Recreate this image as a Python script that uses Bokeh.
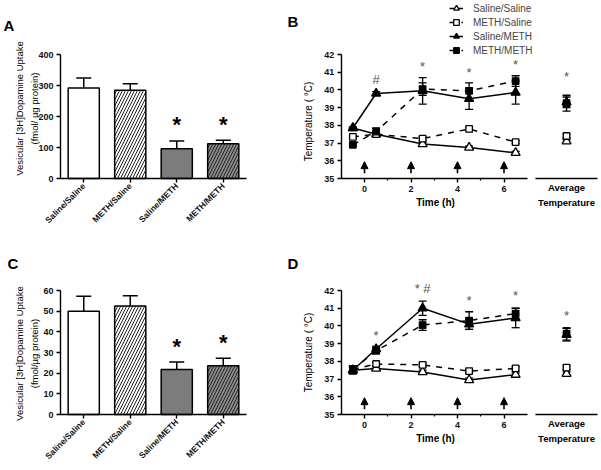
import math
from bokeh.plotting import figure
from bokeh.layouts import row, column
from bokeh.models import (Range1d, FixedTicker, ColumnDataSource, Whisker, LinearAxis,
                          TeeHead, Arrow, NormalHead, Label, Legend, LegendItem)
from bokeh.core.properties import value
from bokeh.embed import file_html
from bokeh.resources import INLINE

FONT = "Liberation Sans"

# ---------------- data ----------------
groups = ["Saline/Saline", "METH/Saline", "Saline/METH", "METH/METH"]

uptake_A = [292, 285, 96, 112]
uptake_A_err = [32, 21, 25, 11]
uptake_C = [50.0, 52.5, 21.8, 23.6]
uptake_C_err = [7.2, 5.0, 3.6, 3.6]
uptake_sig = ["", "", "*", "*"]

time_h = [-0.5, 0.5, 2.5, 4.5, 6.5]
dose_times = [0, 2, 4, 6]

temp_B = {
    "Saline/Saline": [37.85, 37.5, 36.95, 36.75, 36.45],
    "METH/Saline":   [37.35, 37.5, 37.25, 37.8, 37.05],
    "Saline/METH":   [37.85, 39.8, 39.95, 39.5, 39.85],
    "METH/METH":     [36.9, 37.65, 40.05, 39.95, 40.5],
}
temp_B_err = {
    "Saline/Saline": [0.05, 0.05, 0.08, 0.08, 0.08],
    "METH/Saline":   [0.05, 0.05, 0.1, 0.08, 0.08],
    "Saline/METH":   [0.05, 0.1, 0.75, 0.6, 0.65],
    "METH/METH":     [0.05, 0.2, 0.35, 0.45, 0.3],
}
avg_B = [37.1, 37.4, 39.3, 39.25]
avg_B_err = [0.1, 0.1, 0.3, 0.45]
marks_B = {"x": [0.5, 2.5, 4.5, 6.5], "y": [40.6, 41.3, 41.0, 41.45], "text": ["#", "*", "*", "*"]}
avg_mark_B = 40.75

temp_D = {
    "Saline/Saline": [37.5, 37.6, 37.4, 36.95, 37.25],
    "METH/Saline":   [37.55, 37.85, 37.8, 37.45, 37.6],
    "Saline/METH":   [37.5, 38.7, 41.0, 40.1, 40.45],
    "METH/METH":     [37.55, 38.6, 40.05, 40.3, 40.7],
}
temp_D_err = {
    "Saline/Saline": [0.2, 0.1, 0.1, 0.1, 0.1],
    "METH/Saline":   [0.15, 0.1, 0.1, 0.1, 0.1],
    "Saline/METH":   [0.2, 0.15, 0.4, 0.3, 0.55],
    "METH/METH":     [0.2, 0.15, 0.3, 0.5, 0.3],
}
avg_D = [37.3, 37.65, 39.5, 39.55]
avg_D_err = [0.1, 0.1, 0.35, 0.35]
marks_D = {"x": [0.5, 2.5, 4.5, 6.5], "y": [39.45, 42.1, 41.45, 41.7], "text": ["*", "* #", "*", "*"]}
avg_mark_D = 40.6

# ---------------- layout / style constants (pixels) ----------------
ROW1_H, ROW2_H = 236, 234
BAR_W, TEMP_W = 266, 335
AVG_X = 8.69
AVG_LINE = (7.35, 10.02)

styles = {
    "Saline/Saline": dict(marker="triangle", fill="white", dash="solid", size=9),
    "METH/Saline":   dict(marker="square", fill="white", dash="dashed", size=6.5),
    "Saline/METH":   dict(marker="triangle", fill="black", dash="solid", size=9),
    "METH/METH":     dict(marker="square", fill="black", dash="dashed", size=6.5),
}
bar_fill = ["white", "white", "#7c7c7c", "#8a8a8a"]
bar_hatch = [" ", "/", " ", "/"]


def span(v1, p1, v2, p2, pa, pb):
    k = (v2 - v1) / (p2 - p1)
    return v1 + (pa - p1) * k, v1 + (pb - p1) * k


def base_fig(xr, yr, w, h):
    p = figure(x_range=Range1d(*xr), y_range=Range1d(*yr), width=w, height=h,
               x_axis_location=None, y_axis_location=None,
               min_border_left=0, min_border_right=0, min_border_top=0, min_border_bottom=0,
               toolbar_location=None, output_backend="svg")
    p.title.visible = False
    p.grid.visible = False
    p.outline_line_color = None
    p.background_fill_color = "white"
    p.border_fill_color = "white"
    return p


def axis(loc, bounds, ticks, minor=None, overrides=None):
    ax = LinearAxis(fixed_location=loc, bounds=bounds,
                    ticker=FixedTicker(ticks=ticks, minor_ticks=minor or []))
    ax.axis_line_width = 1.4
    ax.axis_line_color = "black"
    ax.major_tick_line_width = 1.4
    ax.major_tick_out = 4
    ax.major_tick_in = 0
    ax.minor_tick_out = 2
    ax.minor_tick_in = 0
    ax.minor_tick_line_width = 1.2
    ax.major_label_text_font = FONT
    ax.major_label_text_font_style = "bold"
    ax.major_label_text_font_size = "9px"
    ax.major_label_text_color = "#111111"
    ax.major_label_standoff = 3
    if overrides:
        ax.major_label_overrides = overrides
    return ax


def label(p, text, x, y_top, h, size="10px", style="normal", angle=0.0, align="center",
          baseline="middle", color="black"):
    p.add_layout(Label(x=x, y=h - y_top, x_units="screen", y_units="screen", text=text,
                       text_font=FONT, text_font_style=style, text_font_size=size,
                       angle=angle, text_align=align, text_baseline=baseline,
                       text_color=color, text_line_height=1.3))


def bar_panel(vals, errs, ymax, yticks, ylabel, h, top_px, bot_px, let, let_x, let_base,
              ylab_y, star_off):
    xr = span(0.5, 60, 4.5, 246, 0, BAR_W)
    yr = span(0, bot_px, ymax, top_px, h, 0)
    p = base_fig(xr, yr, BAR_W, h)
    pos = [i + 1 for i in range(len(groups))]
    up = [v + e for v, e in zip(vals, errs)]
    src = ColumnDataSource(dict(x=pos, top=vals, up=up, fill=bar_fill, hatch=bar_hatch,
                                star=uptake_sig, sy=[u + star_off for u in up]))
    p.vbar(x="x", top="top", width=0.67, source=src, fill_color="fill", line_color="black",
           line_width=1.5, hatch_pattern="hatch", hatch_color="#222222", hatch_scale=6,
           hatch_weight=1)
    p.add_layout(Whisker(base="x", lower="top", upper="up", source=src, line_width=1.5,
                         upper_head=TeeHead(size=15, line_width=1.5), lower_head=None))
    p.text(x="x", y="sy", text="star", source=src, text_font=value(FONT),
           text_font_style="bold", text_font_size="22px", text_align="center",
           text_baseline="middle", text_color="black")
    xa = axis(0, (0.5, len(groups) + 0.5), pos, overrides={q: g for q, g in zip(pos, groups)})
    xa.major_label_orientation = math.pi / 4
    xa.major_label_text_font_size = "8.5px"
    xa.major_label_standoff = 2
    p.add_layout(xa, "below")
    ya = axis(0.5, (0, ymax), yticks)
    p.add_layout(ya, "left")
    label(p, ylabel, 26.5, ylab_y, h, size="9.5px", angle=math.pi / 2)
    label(p, let, let_x, let_base, h, size="15px", style="bold", align="left",
          baseline="alphabetic")
    return p


def temp_panel(data, errs, avg, avg_err, marks, avg_mark, h, top_px, bot_px, let, let_base,
               ylab_y, show_legend):
    xr = span(0, 364 - 266, 6, 503.5 - 266, 0, TEMP_W)
    yr = span(35, bot_px, 42, top_px, h, 0)
    p = base_fig(xr, yr, TEMP_W, h)
    arr = ColumnDataSource(dict(x=dose_times, y0=[35.3] * 4, y1=[35.95] * 4))
    p.add_layout(Arrow(x_start="x", y_start="y0", x_end="x", y_end="y1", source=arr,
                       line_width=1.6, end=NormalHead(size=7, fill_color="black",
                                                      line_color="black", line_width=1)))
    items = []
    for i, g in enumerate(groups):
        st = styles[g]
        vals = data[g]
        er = errs[g]
        r1 = p.line(time_h, vals, line_color="black", line_width=1.5, line_dash=st["dash"])
        src = ColumnDataSource(dict(x=time_h, lo=[v - e for v, e in zip(vals, er)],
                                    hi=[v + e for v, e in zip(vals, er)]))
        p.add_layout(Whisker(base="x", lower="lo", upper="hi", source=src, line_width=1.3,
                             upper_head=TeeHead(size=8, line_width=1.3),
                             lower_head=TeeHead(size=8, line_width=1.3)))
        r2 = p.scatter(time_h, vals, marker=st["marker"], size=st["size"],
                       fill_color=st["fill"], line_color="black", line_width=1.3)
        asrc = ColumnDataSource(dict(x=[AVG_X], y=[avg[i]], lo=[avg[i] - avg_err[i]],
                                     hi=[avg[i] + avg_err[i]]))
        p.add_layout(Whisker(base="x", lower="lo", upper="hi", source=asrc, line_width=1.3,
                             upper_head=TeeHead(size=8, line_width=1.3),
                             lower_head=TeeHead(size=8, line_width=1.3)))
        p.scatter("x", "y", source=asrc, marker=st["marker"], size=st["size"],
                  fill_color=st["fill"], line_color="black", line_width=1.3)
        items.append(LegendItem(label=g, renderers=[r1, r2]))
    p.text(x=marks["x"] + [AVG_X], y=marks["y"] + [avg_mark], text=marks["text"] + ["*"],
           text_font=value(FONT), text_font_size="13px", text_color="#555555",
           text_align="center", text_baseline="middle")
    p.segment(x0=[AVG_LINE[0]], y0=[35], x1=[AVG_LINE[1]], y1=[35], line_color="black",
              line_width=1.5)
    xa = axis(35, (-1, 7), [0, 2, 4, 6], minor=[1, 3, 5])
    p.add_layout(xa, "below")
    ya = axis(-1, (35, 42), [35, 36, 37, 38, 39, 40, 41, 42])
    p.add_layout(ya, "left")
    label(p, "Time (h)", 435 - 266, bot_px + 24, h, style="bold")
    label(p, "Average\nTemperature", 566 - 266, bot_px + 16.5, h, size="9.5px", style="bold")
    label(p, "Temperature ( °C)", 308 - 266, ylab_y, h, angle=math.pi / 2)
    label(p, let, 287 - 266, let_base, h, size="15px", style="bold", align="left",
          baseline="alphabetic")
    if show_legend:
        leg = Legend(items=items, location=(449 - 266, h - 57), orientation="vertical",
                     label_text_font=FONT, label_text_font_size="10px",
                     label_text_color="#444444", glyph_height=14, glyph_width=14,
                     label_height=14, spacing=0, padding=0, margin=0, label_standoff=10,
                     border_line_color=None, background_fill_alpha=0)
        p.add_layout(leg)
    return p


pA = bar_panel(uptake_A, uptake_A_err, 400, [0, 100, 200, 300, 400],
               "Vesicular [3H]Dopamine Uptake\n(fmol/ µg protein)", ROW1_H, 54, 178,
               "A", 3, 25, 108, 52)
pB = temp_panel(temp_B, temp_B_err, avg_B, avg_B_err, marks_B, avg_mark_B, ROW1_H, 54, 178,
                "B", 21, 121, True)
pC = bar_panel(uptake_C, uptake_C_err, 60, [0, 10, 20, 30, 40, 50, 60],
               "Vesicular [3H]Dopamine Uptake\n(fmol/µg protein)", ROW2_H, 290 - 236,
               414 - 236, "C", 7, 263 - 236, 117, 7.5)
pD = temp_panel(temp_D, temp_D_err, avg_D, avg_D_err, marks_D, avg_mark_D, ROW2_H, 290 - 236,
                414 - 236, "D", 263 - 236, 116, False)

layout = column(row(pA, pB), row(pC, pD))
open("out.html", "w").write(file_html(layout, INLINE))
